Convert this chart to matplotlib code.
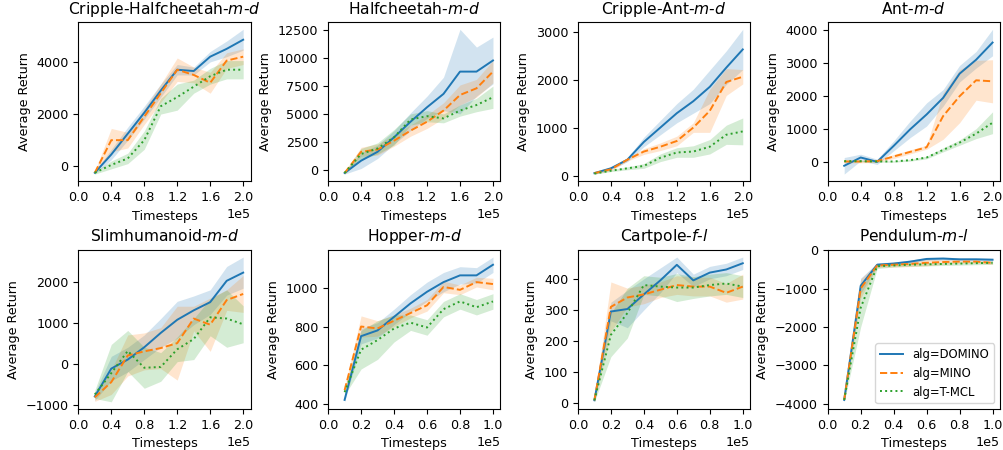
import numpy as np
import matplotlib
matplotlib.use("Agg")
import matplotlib.pyplot as plt

# timesteps
x_long = [20000, 40000, 60000, 80000, 100000, 120000, 140000, 160000, 180000, 200000]
x_short = [10000, 20000, 30000, 40000, 50000, 60000, 70000, 80000, 90000, 100000]

algs = ["alg=DOMINO", "alg=MINO", "alg=T-MCL"]

titles = ["Cripple-Halfcheetah-$m$-$d$", "Halfcheetah-$m$-$d$", "Cripple-Ant-$m$-$d$", "Ant-$m$-$d$",
          "Slimhumanoid-$m$-$d$", "Hopper-$m$-$d$", "Cartpole-$f$-$l$", "Pendulum-$m$-$l$"]

# mean returns per algorithm (DOMINO, MINO, T-MCL) and spread of the band
chc_mean = [[-250, 450, 1250, 2050, 2900, 3700, 3650, 4200, 4500, 4850],
            [-250, 1000, 1000, 1900, 2800, 3700, 3500, 3200, 4050, 4200],
            [-250, 50, 300, 1000, 2300, 2650, 3050, 3450, 3700, 3700]]
chc_sd = [[50, 200, 250, 250, 250, 200, 150, 200, 300, 400],
          [50, 450, 300, 300, 350, 450, 300, 400, 300, 300],
          [50, 150, 200, 350, 300, 500, 250, 300, 350, 350]]

hc_mean = [[-300, 800, 1600, 2900, 4300, 5600, 6800, 8800, 8800, 9800],
           [-300, 1600, 1800, 2600, 3500, 4300, 5300, 6700, 7300, 8800],
           [-300, 1400, 1900, 2900, 4500, 4800, 4600, 5300, 5800, 6500]]
hc_sd = [[100, 700, 600, 600, 800, 1000, 1500, 3800, 2200, 2100],
         [100, 400, 500, 500, 500, 600, 700, 900, 800, 1000],
         [100, 500, 500, 700, 500, 500, 400, 500, 600, 1000]]

ca_mean = [[50, 150, 330, 700, 1000, 1300, 1550, 1850, 2250, 2630],
           [50, 130, 330, 500, 600, 720, 1000, 1350, 1950, 2060],
           [40, 100, 150, 200, 370, 480, 500, 600, 850, 920]]
ca_sd = [[20, 30, 40, 100, 150, 200, 250, 350, 350, 420],
         [20, 30, 30, 60, 80, 100, 100, 450, 280, 150],
         [10, 20, 30, 50, 80, 100, 120, 150, 200, 280]]

ant_mean = [[-100, 150, 20, 500, 1000, 1450, 1950, 2680, 3100, 3620],
            [30, 30, 40, 180, 320, 460, 1400, 2000, 2480, 2450],
            [40, 40, 30, 30, 70, 150, 380, 600, 870, 1200]]
ant_sd = [[250, 100, 80, 150, 250, 350, 250, 250, 250, 400],
          [40, 40, 40, 60, 60, 60, 700, 800, 600, 650],
          [20, 20, 20, 20, 30, 40, 60, 80, 150, 330]]

sh_mean = [[-800, -120, 100, 400, 750, 1070, 1300, 1500, 2020, 2220],
           [-820, -450, 200, 300, 380, 500, 1100, 950, 1550, 1700],
           [-750, -230, 310, -100, -80, 350, 600, 1130, 1100, 960]]
sh_sd = [[100, 300, 300, 300, 350, 450, 350, 300, 350, 380],
         [100, 300, 500, 450, 500, 900, 300, 650, 250, 450],
         [100, 700, 500, 500, 350, 300, 500, 450, 700, 450]]

hop_mean = [[420, 750, 780, 850, 920, 980, 1030, 1065, 1065, 1120],
            [470, 800, 790, 830, 870, 910, 1005, 990, 1030, 1020],
            [460, 680, 730, 790, 820, 795, 890, 930, 900, 930]]
hop_sd = [[10, 40, 40, 40, 45, 50, 50, 45, 40, 40],
          [15, 55, 40, 30, 25, 30, 30, 25, 25, 30],
          [15, 100, 100, 70, 40, 40, 40, 40, 40, 40]]

cp_mean = [[10, 295, 303, 350, 395, 445, 395, 420, 430, 450],
           [10, 310, 340, 350, 365, 380, 375, 375, 355, 375],
           [10, 220, 290, 380, 375, 372, 372, 380, 385, 375]]
cp_sd = [[5, 30, 60, 50, 40, 25, 20, 20, 20, 20],
         [5, 80, 30, 30, 25, 30, 30, 30, 30, 40],
         [5, 70, 80, 30, 30, 45, 35, 35, 35, 35]]

pen_mean = [[-3900, -930, -380, -350, -300, -230, -220, -240, -240, -250],
            [-3900, -1000, -400, -380, -360, -330, -310, -300, -300, -330],
            [-3900, -1500, -420, -400, -380, -370, -360, -350, -340, -330]]
pen_sd = [[50, 200, 50, 40, 40, 40, 40, 40, 40, 40],
          [50, 250, 50, 60, 70, 80, 60, 40, 40, 40],
          [50, 500, 60, 40, 40, 40, 40, 40, 40, 40]]

means = [chc_mean, hc_mean, ca_mean, ant_mean, sh_mean, hop_mean, cp_mean, pen_mean]
sds = [chc_sd, hc_sd, ca_sd, ant_sd, sh_sd, hop_sd, cp_sd, pen_sd]
xs = [x_long, x_long, x_long, x_long, x_long, x_short, x_short, x_short]

colors = ["tab:blue", "tab:orange", "tab:green"]
styles = ["-", "--", ":"]

plt.rcParams["xtick.labelsize"] = 9.2
plt.rcParams["ytick.labelsize"] = 9.2
plt.rcParams["axes.labelsize"] = 9.2
plt.rcParams["axes.titlesize"] = 11.2
plt.rcParams["legend.fontsize"] = 8.4

fig, axes = plt.subplots(2, 4, figsize=(10.04, 4.5), dpi=100)
fig.subplots_adjust(left=0.078, right=0.996, top=0.951, bottom=0.091, wspace=0.45, hspace=0.43)

for i, ax in enumerate(axes.flat):
    x = np.array(xs[i])
    for k in range(3):
        m = np.array(means[i][k])
        s = np.array(sds[i][k])
        ax.fill_between(x, m - s, m + s, color=colors[k], alpha=0.2, linewidth=0)
        ax.plot(x, m, color=colors[k], linestyle=styles[k], linewidth=1.4, label=algs[k])
    xmax = x[-1]
    ax.set_xlim(0, xmax * 1.045)
    ax.set_xticks(np.linspace(0, xmax, 6))
    ax.ticklabel_format(style="sci", axis="x", scilimits=(0, 0))
    ax.set_title(titles[i])
    ax.set_xlabel("Timesteps")
    ax.set_ylabel("Average Return")

axes[1, 3].legend(loc="lower right")
plt.savefig("out.png", dpi=100)
